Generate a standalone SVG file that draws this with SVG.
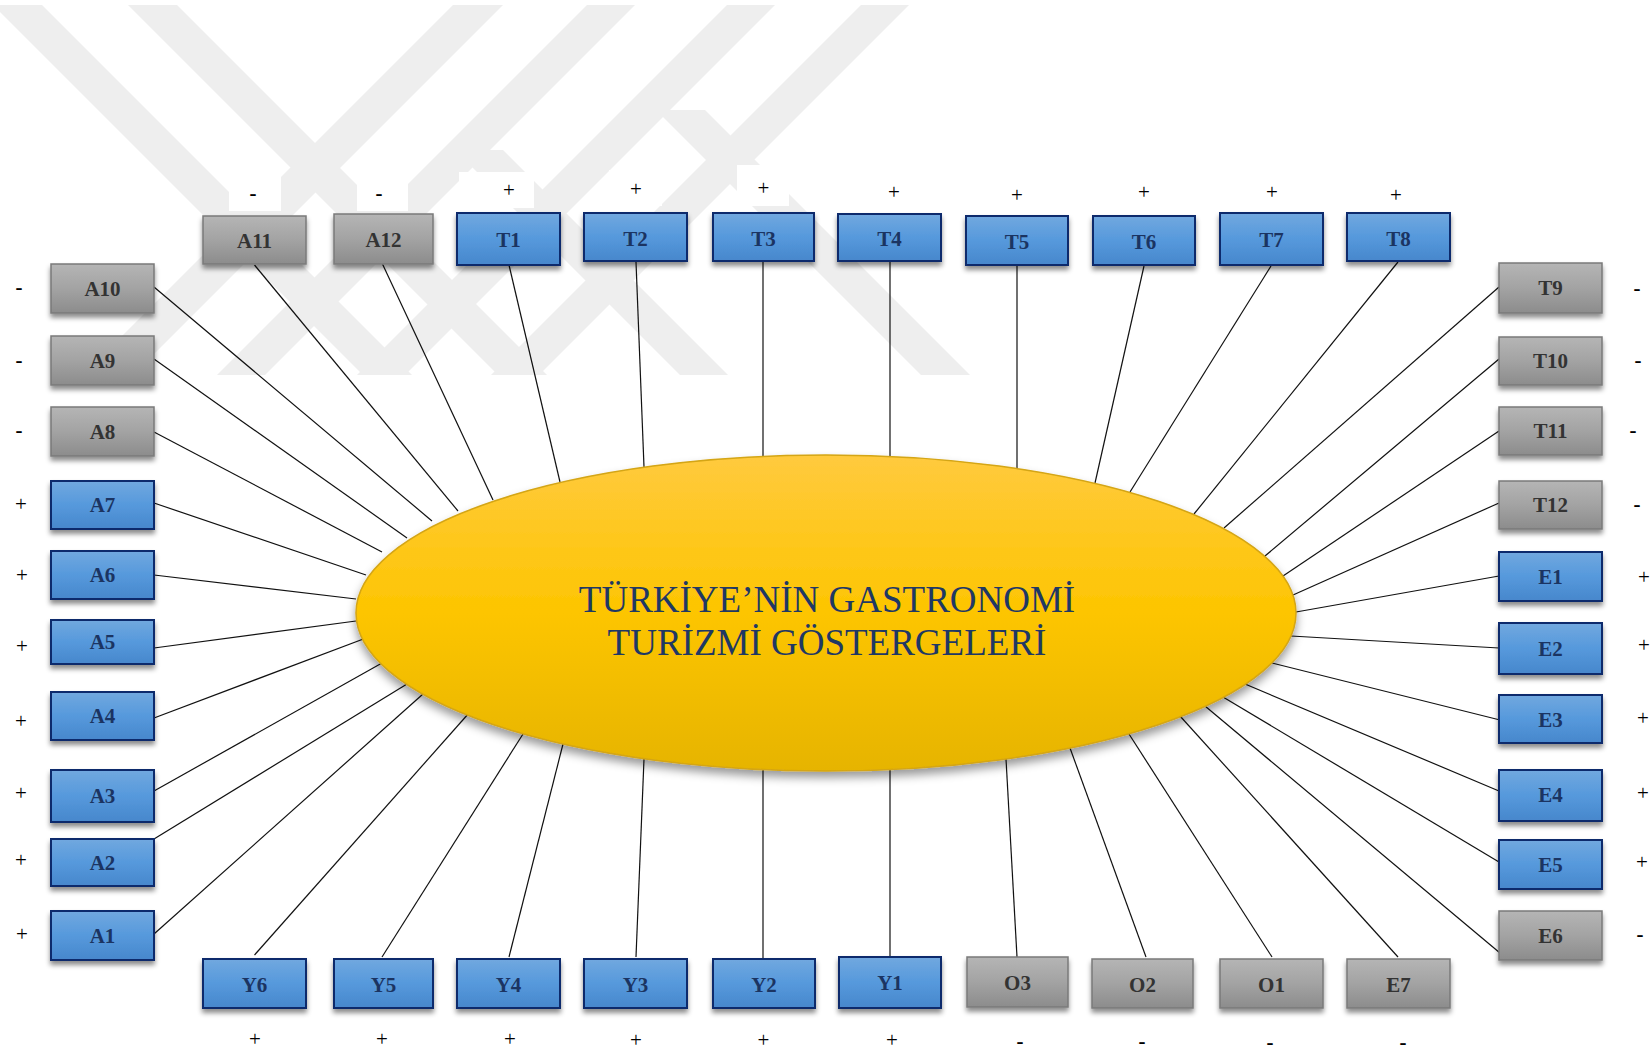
<svg xmlns="http://www.w3.org/2000/svg" width="1652" height="1054" viewBox="0 0 1652 1054">
<defs>
<linearGradient id="gBlue" x1="0" y1="0" x2="0" y2="1">
<stop offset="0" stop-color="#71a8df"/><stop offset="0.5" stop-color="#5699dc"/><stop offset="1" stop-color="#4787cc"/>
</linearGradient>
<linearGradient id="gGray" x1="0" y1="0" x2="0" y2="1">
<stop offset="0" stop-color="#b5b5b5"/><stop offset="0.5" stop-color="#a3a3a3"/><stop offset="1" stop-color="#8c8c8c"/>
</linearGradient>
<linearGradient id="gGold" x1="0" y1="0" x2="0" y2="1">
<stop offset="0" stop-color="#ffca3e"/><stop offset="0.5" stop-color="#fdc500"/><stop offset="1" stop-color="#e6b400"/>
</linearGradient>
<filter id="sh" x="-15%" y="-20%" width="130%" height="170%">
<feDropShadow dx="0" dy="4" stdDeviation="2.5" flood-color="#000" flood-opacity="0.45"/>
</filter>
<filter id="shE" x="-10%" y="-15%" width="120%" height="140%">
<feDropShadow dx="0" dy="6" stdDeviation="5" flood-color="#000" flood-opacity="0.4"/>
</filter>
</defs>
<style>
.wm{fill:#eeeeee}
.wb{fill:#ffffff}
.nb rect{fill:url(#gBlue);stroke:#102c6c;stroke-width:2;filter:url(#sh)}
.ng rect{fill:url(#gGray);stroke:#7a7a7a;stroke-width:1.5;filter:url(#sh)}
.lbl{font-family:"Liberation Serif","Times New Roman",serif;font-weight:bold;font-size:21px;text-anchor:middle}
.nb .lbl{fill:#1b3462}
.ng .lbl{fill:#333333}
.p{font-family:"Liberation Serif","Times New Roman",serif;font-size:21px;text-anchor:middle;fill:#000}
.m{font-family:"Liberation Serif","Times New Roman",serif;font-size:21px;font-weight:bold;text-anchor:middle;fill:#000}
#connectors line{stroke:#111;stroke-width:1.2}
.title{font-family:"Liberation Serif","Times New Roman",serif;font-size:37px;fill:#1f3864;text-anchor:middle}
</style>
<rect x="0" y="0" width="1652" height="1054" fill="#ffffff"/>
<g id="watermark">
<polygon class="wm" points="-7,5 42,5 412,375 363,375"/>
<polygon class="wm" points="128,5 177,5 547,375 498,375"/>
<polygon class="wm" points="453,5 503,5 133,375 83,375"/>
<polygon class="wm" points="587,5 635,5 265,375 217,375"/>
<polygon class="wm" points="727,5 775,5 405,375 357,375"/>
<polygon class="wm" points="861,5 909,5 539,375 491,375"/>
<polygon class="wm" points="455,150 503,150 728,375 680,375"/>
<polygon class="wm" points="656,110 705,110 970,375 921,375"/>
</g>
<g id="label-backgrounds">
<rect class="wb" x="229" y="166" width="52" height="45"/>
<rect class="wb" x="357" y="177" width="51" height="34"/>
<rect class="wb" x="459" y="172" width="75" height="36"/>
<rect class="wb" x="609" y="170" width="53" height="36"/>
<rect class="wb" x="737" y="165" width="52" height="41"/>
</g>
<g id="connectors">
<line x1="154" y1="287" x2="432" y2="521"/>
<line x1="154" y1="359" x2="407" y2="538"/>
<line x1="154" y1="432" x2="382" y2="552"/>
<line x1="254.5" y1="265" x2="458" y2="511"/>
<line x1="382" y1="263" x2="493" y2="500"/>
<line x1="509" y1="265" x2="560" y2="482"/>
<line x1="636" y1="262" x2="644" y2="467"/>
<line x1="763" y1="262" x2="763" y2="456"/>
<line x1="890" y1="262" x2="890" y2="457"/>
<line x1="1017" y1="266" x2="1017" y2="469"/>
<line x1="1144" y1="266" x2="1095" y2="483"/>
<line x1="1271" y1="266" x2="1130" y2="492"/>
<line x1="1398" y1="262" x2="1194" y2="514"/>
<line x1="1499" y1="287" x2="1224" y2="528"/>
<line x1="1499" y1="359" x2="1265" y2="556"/>
<line x1="1499" y1="431" x2="1283" y2="576"/>
<line x1="1499" y1="503" x2="1293" y2="595"/>
<line x1="1499" y1="576" x2="1296" y2="612"/>
<line x1="1499" y1="648" x2="1291" y2="636"/>
<line x1="1500" y1="720" x2="1272" y2="663"/>
<line x1="1499" y1="791" x2="1245" y2="684"/>
<line x1="1499" y1="862" x2="1223" y2="697"/>
<line x1="1500" y1="953" x2="1205" y2="706"/>
<line x1="1398" y1="957" x2="1180" y2="716"/>
<line x1="1272" y1="957" x2="1129" y2="734"/>
<line x1="1146" y1="957" x2="1070" y2="748"/>
<line x1="1017" y1="957" x2="1006" y2="759"/>
<line x1="890" y1="957" x2="890" y2="769"/>
<line x1="763" y1="959" x2="763" y2="769"/>
<line x1="636" y1="957" x2="644" y2="759"/>
<line x1="509" y1="957" x2="563" y2="744"/>
<line x1="382" y1="957" x2="523" y2="734"/>
<line x1="254.5" y1="955" x2="469" y2="713"/>
<line x1="154" y1="934" x2="423" y2="694"/>
<line x1="154" y1="839" x2="407" y2="684"/>
<line x1="154" y1="791" x2="382" y2="663"/>
<line x1="154" y1="718" x2="366" y2="638"/>
<line x1="154" y1="648" x2="356" y2="621"/>
<line x1="154" y1="575" x2="356" y2="599"/>
<line x1="154" y1="503" x2="366" y2="575"/>
</g>
<g id="node-center">
<ellipse cx="826" cy="613" rx="470" ry="158" fill="url(#gGold)" stroke="#d4a514" stroke-width="1.5" filter="url(#shE)"/>
<text class="title" x="827" y="612">TÜRKİYE’NİN GASTRONOMİ</text>
<text class="title" x="827" y="655">TURİZMİ GÖSTERGELERİ</text>
</g>
<g id="node-A10" class="ng"><rect x="51" y="264" width="103" height="49"/><text class="lbl" x="102.5" y="296">A10</text><text class="m" x="19" y="294">-</text></g>
<g id="node-A9" class="ng"><rect x="51" y="336" width="103" height="49"/><text class="lbl" x="102.5" y="368">A9</text><text class="m" x="19" y="367">-</text></g>
<g id="node-A8" class="ng"><rect x="51" y="407" width="103" height="49"/><text class="lbl" x="102.5" y="439">A8</text><text class="m" x="19" y="437">-</text></g>
<g id="node-A7" class="nb"><rect x="51" y="481" width="103" height="48"/><text class="lbl" x="102.5" y="512">A7</text><text class="p" x="21" y="511">+</text></g>
<g id="node-A6" class="nb"><rect x="51" y="551" width="103" height="48"/><text class="lbl" x="102.5" y="582">A6</text><text class="p" x="22" y="582">+</text></g>
<g id="node-A5" class="nb"><rect x="51" y="620" width="103" height="44"/><text class="lbl" x="102.5" y="649">A5</text><text class="p" x="22" y="653">+</text></g>
<g id="node-A4" class="nb"><rect x="51" y="692" width="103" height="48"/><text class="lbl" x="102.5" y="723">A4</text><text class="p" x="21" y="728">+</text></g>
<g id="node-A3" class="nb"><rect x="51" y="770" width="103" height="52"/><text class="lbl" x="102.5" y="803">A3</text><text class="p" x="21" y="800">+</text></g>
<g id="node-A2" class="nb"><rect x="51" y="839" width="103" height="47"/><text class="lbl" x="102.5" y="870">A2</text><text class="p" x="21" y="867">+</text></g>
<g id="node-A1" class="nb"><rect x="51" y="911" width="103" height="49"/><text class="lbl" x="102.5" y="943">A1</text><text class="p" x="22" y="941">+</text></g>
<g id="node-T9" class="ng"><rect x="1499" y="263" width="103" height="50"/><text class="lbl" x="1550.5" y="295">T9</text><text class="m" x="1637" y="295">-</text></g>
<g id="node-T10" class="ng"><rect x="1499" y="337" width="103" height="48"/><text class="lbl" x="1550.5" y="368">T10</text><text class="m" x="1638" y="367">-</text></g>
<g id="node-T11" class="ng"><rect x="1499" y="407" width="103" height="48"/><text class="lbl" x="1550.5" y="438">T11</text><text class="m" x="1633" y="437">-</text></g>
<g id="node-T12" class="ng"><rect x="1499" y="481" width="103" height="48"/><text class="lbl" x="1550.5" y="512">T12</text><text class="m" x="1637" y="511">-</text></g>
<g id="node-E1" class="nb"><rect x="1499" y="552" width="103" height="49"/><text class="lbl" x="1550.5" y="584">E1</text><text class="p" x="1644" y="584">+</text></g>
<g id="node-E2" class="nb"><rect x="1499" y="623" width="103" height="51"/><text class="lbl" x="1550.5" y="656">E2</text><text class="p" x="1644" y="652">+</text></g>
<g id="node-E3" class="nb"><rect x="1499" y="695" width="103" height="48"/><text class="lbl" x="1550.5" y="727">E3</text><text class="p" x="1643" y="725">+</text></g>
<g id="node-E4" class="nb"><rect x="1499" y="770" width="103" height="51"/><text class="lbl" x="1550.5" y="802">E4</text><text class="p" x="1643" y="800">+</text></g>
<g id="node-E5" class="nb"><rect x="1499" y="840" width="103" height="49"/><text class="lbl" x="1550.5" y="872">E5</text><text class="p" x="1642" y="869">+</text></g>
<g id="node-E6" class="ng"><rect x="1499" y="911" width="103" height="49"/><text class="lbl" x="1550.5" y="943">E6</text><text class="m" x="1640" y="941">-</text></g>
<g id="node-A11" class="ng"><rect x="203" y="216" width="103" height="48"/><text class="lbl" x="254.5" y="248">A11</text><text class="m" x="253" y="200">-</text></g>
<g id="node-A12" class="ng"><rect x="334" y="214" width="99" height="50"/><text class="lbl" x="383.5" y="247">A12</text><text class="m" x="379" y="200">-</text></g>
<g id="node-T1" class="nb"><rect x="457" y="213" width="103" height="52"/><text class="lbl" x="508.5" y="247">T1</text><text class="p" x="509" y="197">+</text></g>
<g id="node-T2" class="nb"><rect x="584" y="213" width="103" height="48"/><text class="lbl" x="635.5" y="246">T2</text><text class="p" x="636" y="196">+</text></g>
<g id="node-T3" class="nb"><rect x="713" y="213" width="101" height="48"/><text class="lbl" x="763.5" y="246">T3</text><text class="p" x="763.5" y="195">+</text></g>
<g id="node-T4" class="nb"><rect x="838" y="214" width="103" height="47"/><text class="lbl" x="889.5" y="246">T4</text><text class="p" x="894" y="199">+</text></g>
<g id="node-T5" class="nb"><rect x="966" y="216" width="102" height="49"/><text class="lbl" x="1017" y="249">T5</text><text class="p" x="1017" y="202">+</text></g>
<g id="node-T6" class="nb"><rect x="1093" y="216" width="102" height="49"/><text class="lbl" x="1144" y="249">T6</text><text class="p" x="1144" y="199">+</text></g>
<g id="node-T7" class="nb"><rect x="1220" y="213" width="103" height="52"/><text class="lbl" x="1271.5" y="247">T7</text><text class="p" x="1272" y="199">+</text></g>
<g id="node-T8" class="nb"><rect x="1347" y="213" width="103" height="48"/><text class="lbl" x="1398.5" y="246">T8</text><text class="p" x="1396" y="202">+</text></g>
<g id="node-Y6" class="nb"><rect x="203" y="959" width="103" height="49"/><text class="lbl" x="254.5" y="992">Y6</text><text class="p" x="255" y="1046">+</text></g>
<g id="node-Y5" class="nb"><rect x="334" y="959" width="99" height="49"/><text class="lbl" x="383.5" y="992">Y5</text><text class="p" x="382" y="1046">+</text></g>
<g id="node-Y4" class="nb"><rect x="457" y="959" width="103" height="49"/><text class="lbl" x="508.5" y="992">Y4</text><text class="p" x="510" y="1046">+</text></g>
<g id="node-Y3" class="nb"><rect x="584" y="959" width="103" height="49"/><text class="lbl" x="635.5" y="992">Y3</text><text class="p" x="636" y="1047">+</text></g>
<g id="node-Y2" class="nb"><rect x="713" y="959" width="102" height="49"/><text class="lbl" x="764" y="992">Y2</text><text class="p" x="763.5" y="1047">+</text></g>
<g id="node-Y1" class="nb"><rect x="839" y="957" width="102" height="51"/><text class="lbl" x="890" y="990">Y1</text><text class="p" x="892" y="1047">+</text></g>
<g id="node-O3" class="ng"><rect x="967" y="957" width="101" height="50"/><text class="lbl" x="1017.5" y="990">O3</text><text class="m" x="1020" y="1048">-</text></g>
<g id="node-O2" class="ng"><rect x="1092" y="959" width="101" height="49"/><text class="lbl" x="1142.5" y="992">O2</text><text class="m" x="1142" y="1048">-</text></g>
<g id="node-O1" class="ng"><rect x="1220" y="959" width="103" height="49"/><text class="lbl" x="1271.5" y="992">O1</text><text class="m" x="1270" y="1049">-</text></g>
<g id="node-E7" class="ng"><rect x="1347" y="959" width="103" height="49"/><text class="lbl" x="1398.5" y="992">E7</text><text class="m" x="1403" y="1049">-</text></g>
</svg>
